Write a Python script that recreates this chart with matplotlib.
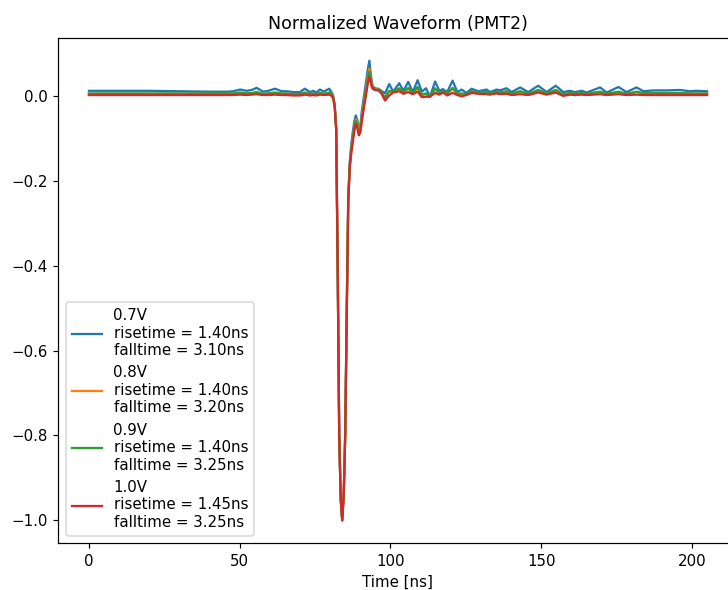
import numpy as np
import matplotlib
matplotlib.use("Agg")
import matplotlib.pyplot as plt

# Time axis in ns, split into segments with their own sampling density
t_pre = [0, 10, 20, 30, 40, 46]
t_ripple = [47.9, 50.1, 52.3, 54.0, 55.6, 57.8, 59.5, 61.7, 63.9, 65.6,
            67.8, 70.0, 71.6, 73.3, 74.4, 75.5, 76.6, 77.9, 79.7]
t_pulse = [80.5, 81.0, 81.5, 82.0, 82.5, 83.0, 83.5, 84.0, 84.5, 85.0,
           85.5, 86.0, 86.5, 87.0, 87.5, 88.0, 88.5, 89.0, 89.5, 90.0,
           90.5, 91.0, 91.5, 92.0, 92.5, 93.0, 93.5, 94.0, 94.5, 95.0,
           95.5, 96.0]
t_post = [97.0, 98.2, 99.6, 100.9, 102.9, 104.3, 105.9, 107.4, 109.0, 110.4,
          111.8, 113.1, 114.8, 116.2, 117.4, 118.8, 120.6, 122.2, 123.6, 125.2,
          126.9, 129.1, 131.9, 133.0, 135.2, 136.3, 138.5, 140.2, 143.0, 145.7,
          149.0, 151.8, 154.8, 157.3, 159.5, 161.2, 163.4, 165.1, 169.5, 171.7,
          175.6, 178.3, 181.6, 183.9, 187.2, 191.6, 196.0, 199.3, 201.5, 205.0]

# 0.7 V
v07_pre = [0.012, 0.012, 0.012, 0.011, 0.010, 0.010]
v07_ripple = [0.011, 0.015, 0.012, 0.014, 0.019, 0.010, 0.012, 0.017, 0.011, 0.011,
              0.009, 0.009, 0.017, 0.009, 0.012, 0.008, 0.015, 0.010, 0.017]
v07_pulse = [0.008, 0.001, -0.020, -0.075, -0.400, -0.790, -0.950, -1.000, -0.940, -0.790,
             -0.500, -0.240, -0.155, -0.115, -0.085, -0.060, -0.046, -0.058, -0.076, -0.070,
             -0.036, -0.011, 0.014, 0.038, 0.063, 0.083, 0.050, 0.025, 0.020, 0.018,
             0.017, 0.017]
v07_post = [0.012, 0.006, 0.028, 0.010, 0.030, 0.012, 0.033, 0.009, 0.037, 0.010,
            0.018, -0.002, 0.034, 0.012, 0.016, 0.009, 0.036, 0.009, 0.015, 0.007,
            0.017, 0.011, 0.015, 0.009, 0.015, 0.013, 0.018, 0.009, 0.020, 0.009,
            0.024, 0.009, 0.024, 0.009, 0.012, 0.009, 0.012, 0.008, 0.020, 0.008,
            0.021, 0.009, 0.020, 0.011, 0.013, 0.013, 0.014, 0.011, 0.012, 0.011]

# 0.8 V
v08_pre = [0.004, 0.004, 0.004, 0.004, 0.004, 0.004]
v08_ripple = [0.004, 0.006, 0.005, 0.006, 0.008, 0.004, 0.005, 0.007, 0.004, 0.004,
              0.003, 0.003, 0.007, 0.003, 0.005, 0.003, 0.006, 0.004, 0.007]
v08_pulse = [0.004, -0.003, -0.022, -0.078, -0.405, -0.795, -0.950, -1.000, -0.940, -0.795,
             -0.510, -0.245, -0.162, -0.125, -0.097, -0.072, -0.055, -0.066, -0.084, -0.078,
             -0.048, -0.024, 0.000, 0.022, 0.046, 0.064, 0.040, 0.021, 0.017, 0.016,
             0.015, 0.015]
v08_post = [0.008, -0.005, 0.010, 0.009, 0.017, 0.007, 0.017, 0.006, 0.019, 0.002,
            0.004, -0.002, 0.016, 0.006, 0.010, 0.004, 0.017, 0.004, 0.004, 0.003,
            0.010, 0.007, 0.008, 0.005, 0.009, 0.007, 0.010, 0.004, 0.010, 0.004,
            0.013, 0.005, 0.013, 0.003, 0.006, 0.004, 0.006, 0.004, 0.009, 0.004,
            0.009, 0.004, 0.009, 0.005, 0.006, 0.006, 0.006, 0.005, 0.005, 0.005]

# 0.9 V
v09_pre = [0.006, 0.006, 0.006, 0.006, 0.006, 0.006]
v09_ripple = [0.006, 0.008, 0.006, 0.007, 0.009, 0.005, 0.006, 0.008, 0.006, 0.006,
              0.005, 0.005, 0.008, 0.005, 0.006, 0.004, 0.007, 0.005, 0.008]
v09_pulse = [0.003, -0.004, -0.023, -0.079, -0.405, -0.797, -0.950, -1.000, -0.940, -0.797,
             -0.515, -0.247, -0.165, -0.128, -0.100, -0.076, -0.059, -0.070, -0.088, -0.082,
             -0.054, -0.030, -0.007, 0.015, 0.040, 0.057, 0.036, 0.020, 0.016, 0.015,
             0.014, 0.014]
v09_post = [0.009, -0.004, 0.012, 0.010, 0.018, 0.008, 0.019, 0.007, 0.021, 0.003,
            0.006, -0.001, 0.018, 0.007, 0.011, 0.005, 0.019, 0.005, 0.006, 0.004,
            0.011, 0.008, 0.009, 0.006, 0.010, 0.008, 0.011, 0.005, 0.011, 0.005,
            0.014, 0.006, 0.014, 0.004, 0.007, 0.005, 0.007, 0.005, 0.010, 0.005,
            0.010, 0.005, 0.010, 0.007, 0.007, 0.007, 0.007, 0.006, 0.006, 0.006]

# 1.0 V
v10_pre = [0.002, 0.002, 0.002, 0.002, 0.002, 0.002]
v10_ripple = [0.002, 0.003, 0.002, 0.003, 0.004, 0.002, 0.002, 0.003, 0.002, 0.002,
              0.001, 0.001, 0.003, 0.001, 0.002, 0.001, 0.003, 0.002, 0.003]
v10_pulse = [0.000, -0.006, -0.025, -0.080, -0.410, -0.800, -0.950, -1.000, -0.940, -0.800,
             -0.520, -0.250, -0.170, -0.135, -0.110, -0.083, -0.066, -0.075, -0.093, -0.086,
             -0.060, -0.037, -0.015, 0.007, 0.030, 0.045, 0.030, 0.018, 0.015, 0.014,
             0.013, 0.013]
v10_post = [0.006, -0.011, 0.001, 0.008, 0.011, 0.005, 0.009, 0.004, 0.010, -0.003,
            -0.002, -0.002, 0.007, 0.003, 0.008, 0.001, 0.007, 0.002, -0.001, 0.002,
            0.007, 0.005, 0.004, 0.003, 0.006, 0.004, 0.005, 0.002, 0.004, 0.002,
            0.008, 0.003, 0.008, 0.000, 0.003, 0.002, 0.003, 0.002, 0.004, 0.002,
            0.004, 0.002, 0.003, 0.002, 0.002, 0.002, 0.002, 0.002, 0.002, 0.002]

voltages = ["0.7V", "0.8V", "0.9V", "1.0V"]
risetimes = [1.40, 1.40, 1.40, 1.45]
falltimes = [3.10, 3.20, 3.25, 3.25]

time_ns = np.concatenate([t_pre, t_ripple, t_pulse, t_post])
waveforms = [
    np.concatenate([v07_pre, v07_ripple, v07_pulse, v07_post]),
    np.concatenate([v08_pre, v08_ripple, v08_pulse, v08_post]),
    np.concatenate([v09_pre, v09_ripple, v09_pulse, v09_post]),
    np.concatenate([v10_pre, v10_ripple, v10_pulse, v10_post]),
]

DPI = 108
fig = plt.figure(figsize=(728 / DPI, 590 / DPI), dpi=DPI)
ax = fig.add_axes([58 / 728, 1 - 543.3 / 590, 680 / 728, (543.3 - 37.7) / 590])

for v, rt, ft, wf in zip(voltages, risetimes, falltimes, waveforms):
    ax.plot(time_ns, wf, lw=1.5,
            label=f"{v}\nrisetime = {rt:.2f}ns\nfalltime = {ft:.2f}ns")

ax.set_title("Normalized Waveform (PMT2)", fontsize=11.6)
ax.set_xlabel("Time [ns]")
ax.legend(loc="lower left")

fig.savefig("out.png", dpi=DPI)
